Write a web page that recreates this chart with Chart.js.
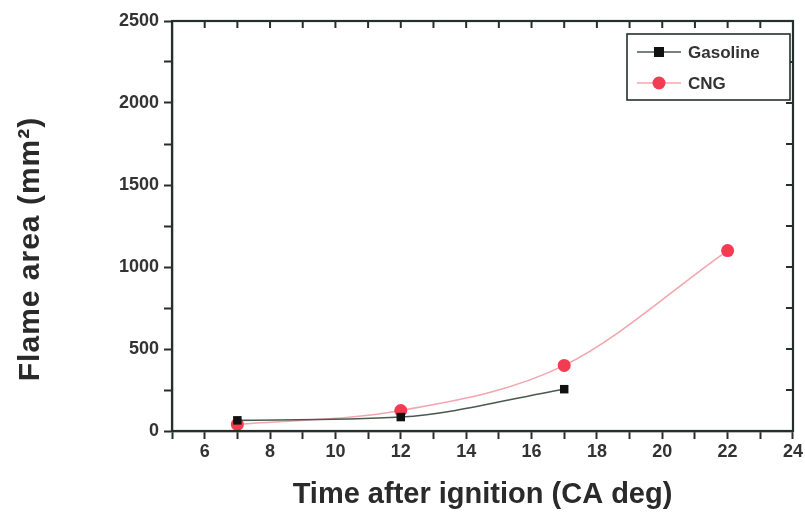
<!DOCTYPE html>
<html><head><meta charset="utf-8">
<script src="https://cdn.jsdelivr.net/npm/chart.js@4.4.0/dist/chart.umd.min.js"></script>
<style>html,body{margin:0;padding:0;background:#fff}#wrap{width:805px;height:514px}</style>
</head><body><div id="wrap"><canvas id="c" width="805" height="514"></canvas></div>
<script>
const gasolineX = [7, 12, 17];
const gasolineY = [65, 85, 255];
const cngX = [7, 12, 17, 22];
const cngY = [40, 125, 400, 1100];
const xTickLabels = [6, 8, 10, 12, 14, 16, 18, 20, 22, 24];
const yTickLabels = [0, 500, 1000, 1500, 2000, 2500];
const yTitle = 'Flame area (mm²)';

const AX = '#26302a';
const FONT = "'Liberation Sans', Arial, sans-serif";

const framePlugin = {
  id: 'frame',
  afterDraw(chart) {
    const {ctx, chartArea: a, scales: {x, y}} = chart;
    ctx.save();
    ctx.strokeStyle = AX;
    ctx.lineWidth = 2.2;
    ctx.strokeRect(a.left, a.top, a.right - a.left, a.bottom - a.top);
    ctx.lineWidth = 2;
    for (let v = 5; v <= 24; v++) {
      const px = x.getPixelForValue(v);
      ctx.beginPath(); ctx.moveTo(px, a.top); ctx.lineTo(px, a.top + 7); ctx.stroke();
    }
    for (let v = 0; v <= 2500; v += 250) {
      const py = y.getPixelForValue(v);
      ctx.beginPath(); ctx.moveTo(a.right, py); ctx.lineTo(a.right - 7, py); ctx.stroke();
    }
    // y title
    ctx.save();
    ctx.translate(31, 249);
    ctx.rotate(-Math.PI / 2);
    ctx.fillStyle = '#2a2a2a';
    ctx.font = 'bold 30px ' + FONT;
    if ('letterSpacing' in ctx) ctx.letterSpacing = '1px';
    ctx.textAlign = 'center';
    ctx.textBaseline = 'middle';
    ctx.fillText(yTitle, 0, 0);
    ctx.restore();
    // legend
    const lx = 627, ly = 34, lw = 163, lh = 66;
    ctx.fillStyle = '#fff';
    ctx.fillRect(lx, ly, lw, lh);
    ctx.lineWidth = 1.6;
    ctx.strokeRect(lx, ly, lw, lh);
    const rows = [
      {label: 'Gasoline', line: '#4a5a50', y: 52, draw: (cx, cy) => { ctx.fillStyle = '#111'; ctx.fillRect(cx - 5, cy - 5, 10, 10); }},
      {label: 'CNG', line: '#f2a6ae', y: 83, draw: (cx, cy) => { ctx.fillStyle = '#f23c52'; ctx.beginPath(); ctx.arc(cx, cy, 6.5, 0, Math.PI * 2); ctx.fill(); }}
    ];
    rows.forEach(r => {
      ctx.strokeStyle = r.line; ctx.lineWidth = 1.5;
      ctx.beginPath(); ctx.moveTo(637, r.y); ctx.lineTo(681, r.y); ctx.stroke();
      r.draw(659, r.y);
      ctx.fillStyle = '#333';
      ctx.font = 'bold 17px ' + FONT;
      ctx.textBaseline = 'middle';
      ctx.fillText(r.label, 688, r.y + 1);
    });
    ctx.restore();
  }
};

new Chart(document.getElementById('c'), {
  type: 'scatter',
  data: {
    datasets: [
      {
        label: 'Gasoline',
        data: gasolineX.map((v, i) => ({x: v, y: gasolineY[i]})),
        showLine: true,
        borderColor: '#4a5a50',
        borderWidth: 1.6,
        backgroundColor: '#111',
        pointStyle: 'rect',
        pointRadius: 6,
        pointBorderWidth: 0,
        cubicInterpolationMode: 'monotone'
      },
      {
        label: 'CNG',
        data: cngX.map((v, i) => ({x: v, y: cngY[i]})),
        showLine: true,
        borderColor: '#f2a6ae',
        borderWidth: 1.6,
        backgroundColor: '#f23c52',
        pointStyle: 'circle',
        pointRadius: 6.5,
        pointBorderWidth: 0,
        cubicInterpolationMode: 'monotone'
      }
    ]
  },
  options: {
    responsive: false,
    animation: false,
    layout: {padding: {left: 0, right: 10, top: 21, bottom: 0}},
    plugins: {legend: {display: false}, tooltip: {enabled: false}},
    scales: {
      x: {
        type: 'linear', min: 5, max: 24,
        afterFit: s => { s.height = 83; },
        border: {display: true, color: AX, width: 2.2},
        grid: {drawOnChartArea: false, color: AX, tickLength: 8, tickWidth: 2, tickColor: AX},
        ticks: {
          stepSize: 1, padding: 2, color: '#333', font: {family: FONT, size: 18, weight: 'bold'},
          maxRotation: 0, autoSkip: false,
          callback: v => xTickLabels.includes(v) ? String(v) : ''
        },
        title: {display: true, text: 'Time after ignition (CA deg)', color: '#2a2a2a',
          font: {family: FONT, size: 29, weight: 'bold'}, padding: {top: 0, bottom: 2}}
      },
      y: {
        type: 'linear', min: 0, max: 2500,
        afterFit: s => { s.width = 172; },
        border: {display: true, color: AX, width: 2.2},
        grid: {drawOnChartArea: false, color: AX, tickLength: 8, tickWidth: 2, tickColor: AX},
        ticks: {
          stepSize: 250, padding: 5, color: '#333', font: {family: FONT, size: 18, weight: 'bold'},
          autoSkip: false,
          callback: v => yTickLabels.includes(v) ? String(v) : ''
        },
        title: {display: false}
      }
    }
  },
  plugins: [framePlugin]
});
</script>
</body></html>
